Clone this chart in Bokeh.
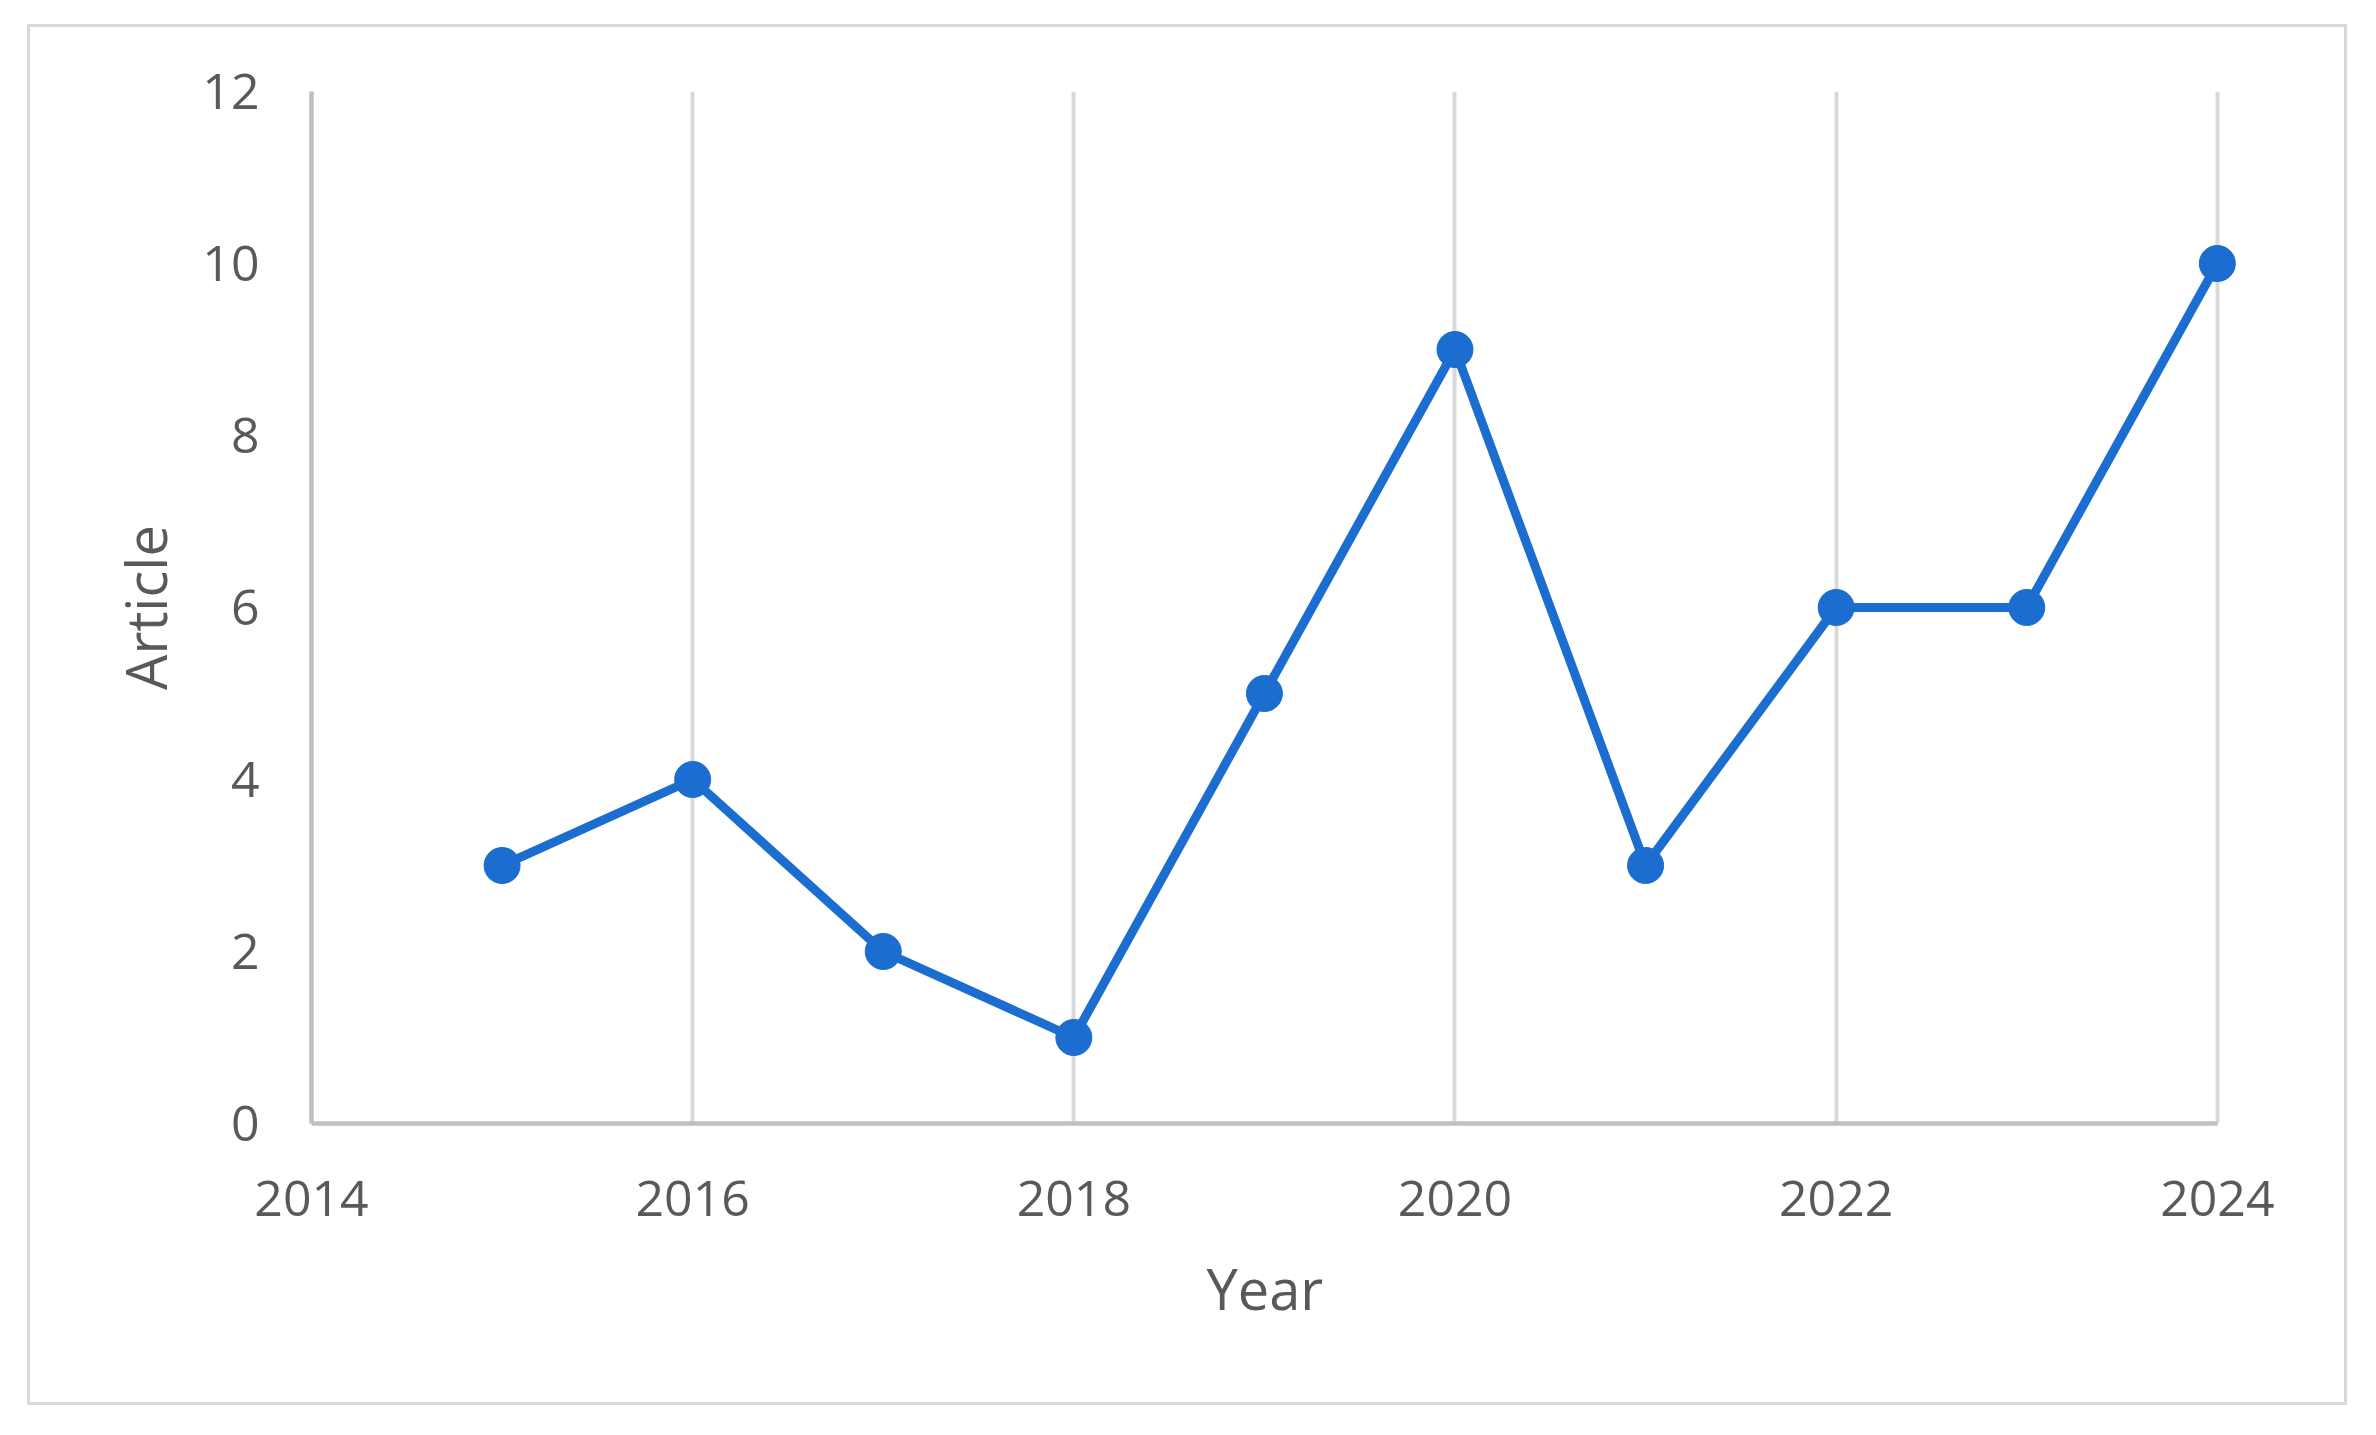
from bokeh.plotting import figure
from bokeh.models import Range1d, FixedTicker, InlineStyleSheet, Title
from bokeh.embed import file_html
from bokeh.resources import INLINE

years = [2015, 2016, 2017, 2018, 2019, 2020, 2021, 2022, 2023, 2024]
articles = [3, 4, 2, 1, 5, 9, 3, 6, 6, 10]
x_ticks = [2014, 2016, 2018, 2020, 2022, 2024]
y_ticks = [0, 2, 4, 6, 8, 10, 12]
x_title = "Year"
y_title = "Article"

W, H = 2360, 1419
FONT = "Open Sans"
TXT = "#595959"
BLUE = "#1c6dd0"

p = figure(width=W, height=H, output_backend="svg", toolbar_location=None,
           x_range=Range1d(2014, 2024.3), y_range=Range1d(0, 12),
           min_border_left=311, min_border_right=86,
           min_border_top=91, min_border_bottom=296)
p.outline_line_color = None
p.background_fill_color = "white"
p.border_fill_color = "white"

for ax in (p.xaxis[0], p.yaxis[0]):
    ax.major_label_text_font = FONT
    ax.major_label_text_font_size = "50px"
    ax.major_label_text_color = TXT
    ax.axis_label_text_font = FONT
    ax.axis_label_text_font_size = "56px"
    ax.axis_label_text_color = TXT
    ax.axis_label_text_font_style = "normal"
    ax.major_tick_line_color = None
    ax.minor_tick_line_color = None
    ax.major_tick_out = 0
    ax.major_tick_in = 0

p.xaxis.ticker = FixedTicker(ticks=x_ticks)
p.yaxis.ticker = FixedTicker(ticks=y_ticks)
p.xaxis.bounds = (2014, 2024)
p.xaxis.axis_line_color = "#bfbfbf"
p.xaxis.axis_line_width = 4.5
p.yaxis.axis_line_color = "#bfbfbf"
p.yaxis.axis_line_width = 4.5
p.yaxis.axis_label = y_title
p.xaxis.major_label_standoff = 57
p.yaxis.major_label_standoff = 52
p.yaxis.axis_label_standoff = 16

# x-axis title centred on the axis extent (2014-2024), not on the padded frame
p.add_layout(Title(text=x_title, text_font=FONT, text_font_size="56px",
                   text_color=TXT, text_font_style="normal",
                   align="left", offset=895, standoff=58), "below")

p.xgrid.ticker = FixedTicker(ticks=x_ticks[1:])
p.xgrid.grid_line_color = "#d9d9d9"
p.xgrid.grid_line_width = 4
p.ygrid.grid_line_color = None

p.line(years, articles, line_color=BLUE, line_width=9)
p.scatter(years, articles, size=36, fill_color=BLUE, line_color=BLUE)

p.stylesheets = [InlineStyleSheet(css=""":host { position: relative; }
:host::after { content: ''; position: absolute; left: 27px; top: 24px;
 width: 2320px; height: 1381px; border: 3px solid #d9d9d9;
 box-sizing: border-box; pointer-events: none; }""")]

open("out.html", "w").write(file_html(p, INLINE))
